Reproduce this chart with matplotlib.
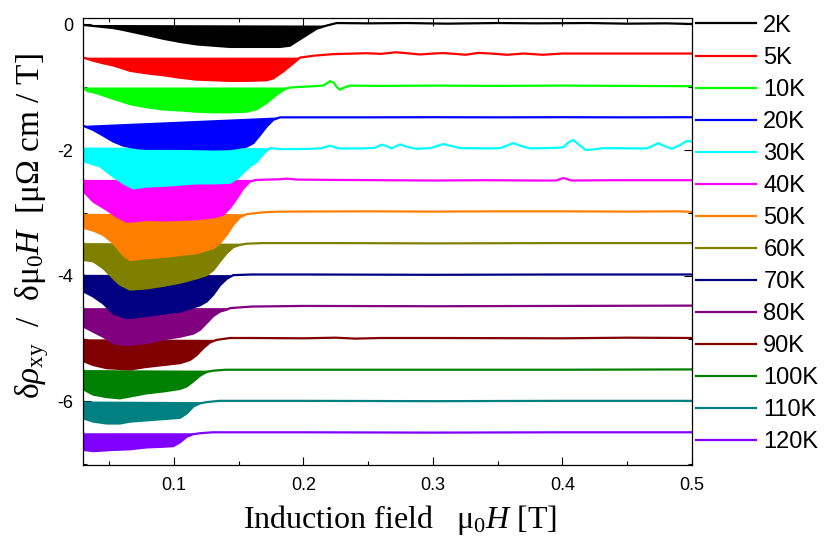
import matplotlib
matplotlib.use("Agg")
import matplotlib.pyplot as plt
from matplotlib.ticker import MultipleLocator

plt.rcParams['font.family'] = ['Liberation Sans', 'DejaVu Sans']
plt.rcParams['mathtext.fontset'] = 'custom'
plt.rcParams['mathtext.rm'] = 'Liberation Serif'
plt.rcParams['mathtext.it'] = 'Liberation Serif:italic'
plt.rcParams['mathtext.bf'] = 'Liberation Serif:bold'

# Temperatures and curve colours
temperatures = ["2K", "5K", "10K", "20K", "30K", "40K", "50K",
                "60K", "70K", "80K", "90K", "100K", "110K", "120K"]
colors = ["#000000", "#ff0000", "#00ff00", "#0000ff", "#00ffff", "#ff00ff",
          "#ff8000", "#808000", "#000080", "#800080", "#800000", "#008000",
          "#008080", "#8000ff"]

# Low-field dip of each (offset) curve: filled region
dip_x_2K = [0.030, 0.0532, 0.0609, 0.0790, 0.0918, 0.1047, 0.1176, 0.1304, 0.1433,
            0.1562, 0.1690, 0.1819, 0.1896, 0.1948, 0.2025, 0.2102, 0.2179]
dip_y_2K = [-0.01, -0.06, -0.09, -0.17, -0.23, -0.28, -0.32, -0.34, -0.36,
            -0.36, -0.36, -0.36, -0.34, -0.27, -0.17, -0.07, -0.02]
dip_x_5K = [0.030, 0.0377, 0.0454, 0.0532, 0.0661, 0.0790, 0.0918, 0.1047, 0.1176,
            0.1304, 0.1433, 0.1562, 0.1716, 0.1767, 0.1844, 0.1922, 0.1973]
dip_y_5K = [-0.53, -0.58, -0.62, -0.655, -0.74, -0.78, -0.81, -0.85, -0.88,
            -0.89, -0.90, -0.90, -0.89, -0.86, -0.75, -0.62, -0.53]
dip_x_10K = [0.030, 0.033, 0.0403, 0.0532, 0.0661, 0.0790, 0.0918, 0.1047, 0.1176,
             0.1304, 0.1433, 0.1562, 0.1639, 0.1716, 0.1793, 0.1858, 0.1896]
dip_y_10K = [-1.005, -1.06, -1.095, -1.185, -1.27, -1.32, -1.355, -1.37, -1.39,
             -1.40, -1.40, -1.39, -1.35, -1.25, -1.12, -1.03, -1.005]
dip_x_20K = [0.030, 0.0377, 0.0454, 0.0532, 0.0609, 0.0712, 0.0790, 0.1047, 0.1176,
             0.1304, 0.1433, 0.1562, 0.1613, 0.1665, 0.1716, 0.1767, 0.1819]
dip_y_20K = [-1.615, -1.68, -1.77, -1.865, -1.93, -1.97, -1.98, -1.98, -1.985,
             -1.99, -1.985, -1.945, -1.89, -1.76, -1.625, -1.52, -1.48]
dip_x_30K = [0.030, 0.0303, 0.0429, 0.0530, 0.0609, 0.0686, 0.0790, 0.0918, 0.1047,
             0.1176, 0.1304, 0.1433, 0.1485, 0.1536, 0.1587, 0.1639, 0.1690, 0.1742]
dip_y_30K = [-1.96, -2.18, -2.26, -2.42, -2.53, -2.61, -2.58, -2.57, -2.55,
             -2.53, -2.53, -2.52, -2.46, -2.36, -2.26, -2.19, -2.06, -1.97]
dip_x_40K = [0.030, 0.0303, 0.0377, 0.0481, 0.0558, 0.0635, 0.0712, 0.0790, 0.0918,
             0.1047, 0.1176, 0.1304, 0.1381, 0.1433, 0.1485, 0.1536, 0.1587, 0.1639]
dip_y_40K = [-2.475, -2.66, -2.82, -2.95, -3.06, -3.14, -3.13, -3.11, -3.12,
             -3.11, -3.10, -3.07, -3.03, -2.92, -2.77, -2.61, -2.50, -2.475]
dip_x_50K = [0.030, 0.0303, 0.0377, 0.0454, 0.0532, 0.0609, 0.0661, 0.0790, 0.0918,
             0.1047, 0.1176, 0.1304, 0.1356, 0.1407, 0.1458, 0.1510, 0.1562]
dip_y_50K = [-3.015, -3.24, -3.28, -3.35, -3.48, -3.67, -3.75, -3.72, -3.70,
             -3.67, -3.64, -3.56, -3.48, -3.35, -3.19, -3.07, -3.02]
dip_x_60K = [0.030, 0.0303, 0.0377, 0.0454, 0.0532, 0.0583, 0.0661, 0.0790, 0.0918,
             0.1047, 0.1176, 0.1253, 0.1304, 0.1356, 0.1407, 0.1458, 0.1510, 0.1562]
dip_y_60K = [-3.48, -3.75, -3.77, -3.88, -4.04, -4.14, -4.22, -4.20, -4.16,
             -4.11, -4.04, -3.99, -3.91, -3.77, -3.64, -3.545, -3.51, -3.49]
dip_x_70K = [0.030, 0.0303, 0.0377, 0.0454, 0.0532, 0.0635, 0.0790, 0.0918, 0.1047,
             0.1124, 0.1201, 0.1253, 0.1304, 0.1356, 0.1407, 0.1458]
dip_y_70K = [-3.985, -4.25, -4.33, -4.44, -4.60, -4.675, -4.64, -4.60, -4.57,
             -4.52, -4.47, -4.41, -4.30, -4.15, -4.05, -3.99]
dip_x_80K = [0.030, 0.0303, 0.0377, 0.0454, 0.0532, 0.0609, 0.0661, 0.0790, 0.0918,
             0.1047, 0.1150, 0.1201, 0.1253, 0.1304, 0.1356, 0.1407, 0.1433]
dip_y_80K = [-4.515, -4.81, -4.89, -4.97, -5.07, -5.10, -5.10, -5.07, -5.01,
             -4.97, -4.92, -4.86, -4.75, -4.64, -4.57, -4.54, -4.515]
dip_x_90K = [0.030, 0.0303, 0.0377, 0.0481, 0.0661, 0.0790, 0.0918, 0.1047, 0.1124,
             0.1176, 0.1227, 0.1279, 0.1330]
dip_y_90K = [-5.01, -5.36, -5.42, -5.47, -5.49, -5.45, -5.42, -5.39, -5.34,
             -5.26, -5.15, -5.06, -5.02]
dip_x_100K = [0.030, 0.0303, 0.0377, 0.0481, 0.0583, 0.0661, 0.0790, 0.0918, 0.1047,
              0.1099, 0.1150, 0.1201, 0.1253, 0.1304]
dip_y_100K = [-5.50, -5.81, -5.89, -5.93, -5.95, -5.92, -5.87, -5.84, -5.80,
              -5.76, -5.68, -5.59, -5.53, -5.51]
dip_x_110K = [0.030, 0.0303, 0.0377, 0.0481, 0.0583, 0.0661, 0.0790, 0.0918, 0.1047,
              0.1099, 0.1150, 0.1201, 0.1253]
dip_y_110K = [-6.00, -6.27, -6.32, -6.35, -6.35, -6.32, -6.30, -6.28, -6.26,
              -6.19, -6.08, -6.03, -6.01]
dip_x_120K = [0.030, 0.0303, 0.0377, 0.0532, 0.0661, 0.0790, 0.0918, 0.0995, 0.1047,
              0.1099, 0.1150, 0.1201]
dip_y_120K = [-6.505, -6.77, -6.79, -6.77, -6.76, -6.73, -6.72, -6.71, -6.65,
              -6.56, -6.52, -6.505]

# High-field part of each curve (after the transition)
tail_x_2K = [0.2257, 0.25, 0.28, 0.31, 0.35, 0.38, 0.42, 0.45, 0.48, 0.50]
tail_y_2K = [0.02, 0.015, 0.02, 0.01, 0.02, 0.015, 0.02, 0.01, 0.015, 0.005]
tail_x_5K = [0.2076, 0.2226, 0.2483, 0.260, 0.2714, 0.280, 0.290, 0.300, 0.308, 0.318,
             0.325, 0.335, 0.345, 0.357, 0.370, 0.385, 0.400, 0.450, 0.500]
tail_y_5K = [-0.50, -0.475, -0.46, -0.47, -0.445, -0.46, -0.48, -0.465, -0.458, -0.472,
             -0.485, -0.455, -0.465, -0.485, -0.465, -0.485, -0.465, -0.465, -0.465]
tail_x_10K = [0.2076, 0.2153, 0.2180, 0.2206, 0.2235, 0.2258, 0.2282, 0.2310, 0.2359,
              0.26, 0.30, 0.35, 0.40, 0.45, 0.50]
tail_y_10K = [-0.985, -0.975, -0.94, -0.905, -0.93, -1.00, -1.04, -1.01, -0.975,
              -0.98, -0.975, -0.98, -0.975, -0.98, -0.985]
tail_x_20K = [0.1948, 0.25, 0.30, 0.35, 0.40, 0.45, 0.50]
tail_y_20K = [-1.48, -1.48, -1.478, -1.48, -1.478, -1.48, -1.478]
tail_x_30K = [0.1819, 0.1948, 0.2076, 0.2140, 0.2180, 0.2205, 0.2235, 0.2270,
              0.2450, 0.2550, 0.2604, 0.2645, 0.2680, 0.2715, 0.2746, 0.2800, 0.2870,
              0.2980, 0.3040, 0.3080, 0.3130, 0.3210, 0.3400, 0.3520, 0.3570, 0.3620,
              0.3680, 0.3750, 0.3950, 0.4007, 0.4045, 0.4084, 0.4130, 0.4180, 0.4240,
              0.4310, 0.4650, 0.4700, 0.4740, 0.4790, 0.4844, 0.4900, 0.4960, 0.5000]
tail_y_30K = [-1.985, -1.985, -1.98, -1.97, -1.945, -1.93, -1.95, -1.975,
              -1.975, -1.965, -1.915, -1.94, -1.975, -1.94, -1.91, -1.95, -1.98,
              -1.97, -1.93, -1.905, -1.93, -1.97, -1.975, -1.97, -1.93, -1.89,
              -1.935, -1.975, -1.965, -1.955, -1.88, -1.84, -1.92, -2.00, -1.99,
              -1.97, -1.975, -1.93, -1.89, -1.94, -1.98, -1.93, -1.855, -1.865]
tail_x_40K = [0.1819, 0.1871, 0.195, 0.22, 0.26, 0.30, 0.34, 0.38, 0.395, 0.4007, 0.407,
              0.44, 0.50]
tail_y_40K = [-2.465, -2.455, -2.47, -2.475, -2.48, -2.485, -2.48, -2.485, -2.485,
              -2.445, -2.485, -2.48, -2.48]
tail_x_50K = [0.169, 0.1819, 0.25, 0.30, 0.35, 0.40, 0.45, 0.49, 0.50]
tail_y_50K = [-2.99, -2.98, -2.975, -2.98, -2.975, -2.975, -2.98, -2.975, -2.985]
tail_x_60K = [0.169, 0.22, 0.30, 0.40, 0.50]
tail_y_60K = [-3.48, -3.48, -3.485, -3.48, -3.48]
tail_x_70K = [0.16, 0.20, 0.30, 0.40, 0.50]
tail_y_70K = [-3.98, -3.98, -3.985, -3.98, -3.98]
tail_x_80K = [0.16, 0.20, 0.30, 0.40, 0.50]
tail_y_80K = [-4.49, -4.48, -4.485, -4.48, -4.475]
tail_x_90K = [0.1433, 0.16, 0.20, 0.225, 0.24, 0.26, 0.30, 0.40, 0.45, 0.50]
tail_y_90K = [-4.99, -4.99, -4.995, -4.985, -5.0, -4.99, -4.99, -4.995, -4.985, -4.99]
tail_x_100K = [0.14, 0.20, 0.30, 0.40, 0.50]
tail_y_100K = [-5.495, -5.495, -5.495, -5.495, -5.49]
tail_x_110K = [0.135, 0.20, 0.30, 0.40, 0.50]
tail_y_110K = [-5.99, -5.99, -5.995, -5.99, -5.99]
tail_x_120K = [0.13, 0.20, 0.30, 0.40, 0.50]
tail_y_120K = [-6.49, -6.49, -6.495, -6.49, -6.49]

dips_x = [dip_x_2K, dip_x_5K, dip_x_10K, dip_x_20K, dip_x_30K, dip_x_40K, dip_x_50K,
          dip_x_60K, dip_x_70K, dip_x_80K, dip_x_90K, dip_x_100K, dip_x_110K, dip_x_120K]
dips_y = [dip_y_2K, dip_y_5K, dip_y_10K, dip_y_20K, dip_y_30K, dip_y_40K, dip_y_50K,
          dip_y_60K, dip_y_70K, dip_y_80K, dip_y_90K, dip_y_100K, dip_y_110K, dip_y_120K]
tails_x = [tail_x_2K, tail_x_5K, tail_x_10K, tail_x_20K, tail_x_30K, tail_x_40K, tail_x_50K,
           tail_x_60K, tail_x_70K, tail_x_80K, tail_x_90K, tail_x_100K, tail_x_110K, tail_x_120K]
tails_y = [tail_y_2K, tail_y_5K, tail_y_10K, tail_y_20K, tail_y_30K, tail_y_40K, tail_y_50K,
           tail_y_60K, tail_y_70K, tail_y_80K, tail_y_90K, tail_y_100K, tail_y_110K, tail_y_120K]

x_ticks = [0.1, 0.2, 0.3, 0.4, 0.5]
y_ticks = [0, -2, -4, -6]

fig = plt.figure(figsize=(8.26, 5.36), dpi=100)
ax = fig.add_axes([0.1008, 0.1325, 0.7370, 0.8339])

# lower-temperature curves are stacked on top of the higher-temperature ones
n = len(temperatures)
for i, (label, color, dx, dy, tx, ty) in enumerate(
        zip(temperatures, colors, dips_x, dips_y, tails_x, tails_y)):
    z = 2 * (n - i) + 2
    ax.fill(dx, dy, color=color, lw=0, zorder=z)
    ax.plot(list(dx) + list(tx), list(dy) + list(ty), color=color, lw=1.6,
            label=label, zorder=z + 1, solid_joinstyle='round')

ax.set_xlim(0.03, 0.5)
ax.set_ylim(-7.01, 0.10)
ax.set_xticks(x_ticks)
ax.set_xticklabels([f"{v:.1f}" for v in x_ticks])
ax.set_yticks(y_ticks)
ax.set_yticklabels([str(v) for v in y_ticks])
ax.xaxis.set_minor_locator(MultipleLocator(0.05))
ax.yaxis.set_minor_locator(MultipleLocator(1))
ax.tick_params(which='both', direction='in', top=True, right=True, width=0.8,
               labelsize=13, colors='black')
ax.tick_params(which='major', length=5.5)
ax.tick_params(which='minor', length=3)
ax.tick_params(axis='x', pad=8.5)
ax.tick_params(axis='y', pad=7)
for s in ax.spines.values():
    s.set_linewidth(0.9)
    s.set_zorder(40)

ax.set_xlabel("Induction field   μ$_0H$ [T]", fontsize=23, family='Liberation Serif')
ax.xaxis.set_label_coords(0.52, -0.085)
ax.set_ylabel(r"δ$\rho_{\mathrm{xy}}$  /  δμ$_0H$  [μΩ cm / T]", fontsize=24,
              family='Liberation Serif')
ax.yaxis.set_label_coords(-0.053, 0.535)

ax.legend(loc='upper left', bbox_to_anchor=(0.8426, 0.9725), bbox_transform=fig.transFigure,
          frameon=False, fontsize=17, handlelength=2.55, handletextpad=0.3,
          labelspacing=0.425, borderpad=0, borderaxespad=0)

fig.savefig("out.png", dpi=100)
